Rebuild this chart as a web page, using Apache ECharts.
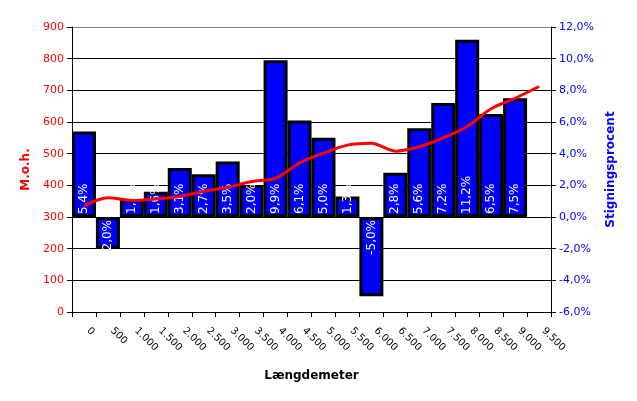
<!DOCTYPE html>
<html>
<head>
<meta charset="utf-8">
<script src="https://cdn.jsdelivr.net/npm/echarts@6/dist/echarts.min.js"></script>
<style>html,body{margin:0;padding:0;background:#fff;}#c{width:637px;height:401px;}</style>
</head>
<body>
<div id="c"></div>
<script>
var categories = ['0','500','1.000','1.500','2.000','2.500','3.000','3.500','4.000','4.500','5.000','5.500','6.000','6.500','7.000','7.500','8.000','8.500','9.000','9.500'];
var elevation = [335, 361, 352, 357, 365, 381, 394, 412, 422, 471, 502, 527, 533, 508, 522, 550, 586, 642, 675, 712];
var slopePct = [5.4, -2.0, 1.1, 1.6, 3.1, 2.7, 3.5, 2.0, 9.9, 6.1, 5.0, 1.3, -5.0, 2.8, 5.6, 7.2, 11.2, 6.5, 7.5];

var FONT = 'DejaVu Sans';
function pct(v){ return v.toFixed(1).replace('.', ',') + '%'; }

var barData = slopePct.map(function(v){
  var neg = v < 0;
  return {
    value: v,
    label: {
      position: neg ? 'insideTop' : 'insideBottom',
      align: neg ? 'right' : 'left',
      distance: 3
    }
  };
});

var gridColors = ['#000','#000','#000','#000','#000','#000','#000','#000','#000','#808080'];

var chart = echarts.init(document.getElementById('c'), null, {renderer:'canvas'});
chart.setOption({
  animation: false,
  backgroundColor: '#fff',
  textStyle: {fontFamily: FONT},
  grid: {left: 72, right: 86, top: 27, bottom: 89, containLabel: false},
  xAxis: {
    type: 'category',
    data: categories,
    boundaryGap: true,
    name: 'Længdemeter',
    nameLocation: 'middle',
    nameGap: 58,
    nameTextStyle: {fontFamily: FONT, fontWeight: 'bold', fontSize: 12, color: '#000'},
    axisLine: {lineStyle: {color: '#000', width: 1}},
    axisTick: {show: true, length: 5, lineStyle: {color: '#000'}},
    axisLabel: {rotate: -45, fontSize: 10, color: '#000', fontFamily: FONT, margin: 13, padding: [0, 0, 0, 6], interval: 0}
  },
  yAxis: [
    {
      type: 'value', min: 0, max: 900, interval: 100,
      name: 'M.o.h.',
      nameLocation: 'middle',
      nameGap: 38,
      nameTextStyle: {fontFamily: FONT, fontWeight: 'bold', fontSize: 12, color: '#ff0000'},
      axisLine: {show: true, lineStyle: {color: '#000'}},
      axisTick: {show: true, length: 5, lineStyle: {color: '#000'}},
      axisLabel: {color: '#ff0000', fontSize: 11, fontFamily: FONT, margin: 8},
      splitLine: {show: true, lineStyle: {color: gridColors, width: 1}}
    },
    {
      type: 'value', min: -6, max: 12, interval: 2,
      name: 'Stigningsprocent',
      nameLocation: 'middle',
      nameGap: 50,
      nameRotate: 90,
      nameTextStyle: {fontFamily: FONT, fontWeight: 'bold', fontSize: 12, color: '#0000ff'},
      axisLine: {show: true, lineStyle: {color: '#000'}},
      axisTick: {show: true, length: 5, lineStyle: {color: '#000'}},
      axisLabel: {color: '#0000ff', fontSize: 11, fontFamily: FONT, margin: 8, formatter: pct},
      splitLine: {show: false}
    }
  ],
  series: [
    {
      type: 'bar',
      yAxisIndex: 1,
      data: barData,
      barWidth: 24,
      barCategoryGap: '0%',
      itemStyle: {color: '#0000ff', borderColor: '#000', borderWidth: 3},
      label: {
        show: true,
        rotate: 90,
        verticalAlign: 'middle',
        color: '#fff',
        fontSize: 12,
        fontFamily: FONT,
        formatter: function(p){ return pct(p.value); }
      },
      z: 2
    },
    {
      type: 'line',
      yAxisIndex: 0,
      data: elevation,
      smooth: 0.3,
      symbol: 'none',
      lineStyle: {color: '#ff0000', width: 3},
      z: 3
    }
  ]
});
</script>
</body>
</html>
